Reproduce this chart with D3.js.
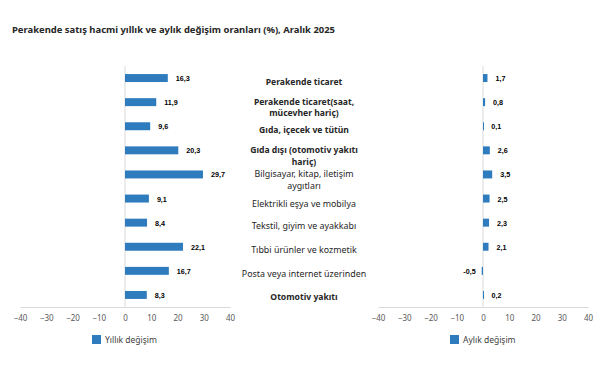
<!DOCTYPE html>
<html>
<head>
<meta charset="utf-8">
<script src="https://cdn.jsdelivr.net/npm/d3@7"></script>
<style>
  body { margin: 0; background: #fff; }
  svg { display: block; }
</style>
</head>
<body>
<div id="chart"></div>
<script>
// chart data
const title = "Perakende satış hacmi yıllık ve aylık değişim oranları (%), Aralık 2025";
const categories = [
  "Perakende ticaret",
  "Perakende ticaret(saat, mücevher hariç)",
  "Gıda, içecek ve tütün",
  "Gıda dışı (otomotiv yakıtı hariç)",
  "Bilgisayar, kitap, iletişim aygıtları",
  "Elektrikli eşya ve mobilya",
  "Tekstil, giyim ve ayakkabı",
  "Tıbbi ürünler ve kozmetik",
  "Posta veya internet üzerinden",
  "Otomotiv yakıtı"
];
// label lines as they wrap in the original
const categoryLines = [
  ["Perakende ticaret"],
  ["Perakende ticaret(saat,", "mücevher hariç)"],
  ["Gıda, içecek ve tütün"],
  ["Gıda dışı (otomotiv yakıtı", "hariç)"],
  ["Bilgisayar, kitap, iletişim", "aygıtları"],
  ["Elektrikli eşya ve mobilya"],
  ["Tekstil, giyim ve ayakkabı"],
  ["Tıbbi ürünler ve kozmetik"],
  ["Posta veya internet üzerinden"],
  ["Otomotiv yakıtı"]
];
const boldCategories = [true, true, true, true, false, false, false, false, false, true];
const yearlyChange = [16.3, 11.9, 9.6, 20.3, 29.7, 9.1, 8.4, 22.1, 16.7, 8.3];
const monthlyChange = [1.7, 0.8, 0.1, 2.6, 3.5, 2.5, 2.3, 2.1, -0.5, 0.2];
const xTicks = [-40, -30, -20, -10, 0, 10, 20, 30, 40];
const seriesNames = ["Yıllık değişim", "Aylık değişim"];

const width = 604, height = 372;
const barColor = "#2e7bbd";
const fmt = v => String(v).replace(".", ",");

const svg = d3.select("#chart").append("svg")
  .attr("width", width)
  .attr("height", height);

svg.append("text")
  .attr("x", 12).attr("y", 33)
  .attr("font-family", "Noto Sans, sans-serif")
  .attr("font-weight", "bold")
  .attr("font-size", 9.45)
  .attr("fill", "#262626")
  .text(title);

const plotTop = 66, plotBottom = 307;

const yScale = d3.scaleBand()
  .domain(categories)
  .range([plotTop, plotBottom])
  .paddingInner(0.67)
  .paddingOuter(0.335);

function drawPanel(x0, x1, values, legendX, name) {
  const xScale = d3.scaleLinear().domain([-40, 40]).range([x0, x1]);
  const g = svg.append("g");

  // zero line
  g.append("line")
    .attr("x1", xScale(0)).attr("x2", xScale(0))
    .attr("y1", plotTop).attr("y2", plotBottom)
    .attr("stroke", "#d9d9d9").attr("stroke-width", 1);

  // bottom axis
  const axis = g.append("g")
    .attr("transform", `translate(0,${plotBottom})`)
    .call(d3.axisBottom(xScale).tickValues(xTicks).tickSize(0).tickPadding(8));
  axis.select(".domain").attr("stroke", "#d9d9d9");
  axis.selectAll("text")
    .attr("font-family", "Noto Sans, sans-serif")
    .attr("font-size", 8)
    .attr("fill", "#595959");

  // bars
  g.selectAll("rect.bar")
    .data(values)
    .join("rect")
    .attr("class", "bar")
    .attr("x", d => xScale(Math.min(0, d)))
    .attr("y", (d, i) => yScale(categories[i]))
    .attr("width", d => Math.max(1, Math.abs(xScale(d) - xScale(0))))
    .attr("height", yScale.bandwidth())
    .attr("fill", barColor);

  // value labels
  g.selectAll("text.val")
    .data(values)
    .join("text")
    .attr("class", "val")
    .attr("x", d => d < 0 ? xScale(d) - 6 : xScale(d) + 8)
    .attr("y", (d, i) => yScale(categories[i]) + yScale.bandwidth() / 2 + 3)
    .attr("text-anchor", d => d < 0 ? "end" : "start")
    .attr("font-family", "Liberation Sans, Arial, sans-serif")
    .attr("font-weight", "bold")
    .attr("font-size", 7.2)
    .attr("fill", "#000")
    .text(d => fmt(d));

  // legend
  const lg = g.append("g").attr("transform", `translate(${legendX},335)`);
  lg.append("rect").attr("width", 9).attr("height", 9).attr("fill", barColor);
  lg.append("text")
    .attr("x", 13).attr("y", 8)
    .attr("font-family", "Noto Sans, sans-serif")
    .attr("font-size", 8.5)
    .attr("fill", "#404040")
    .text(name);
}

drawPanel(20, 230, yearlyChange, 92, seriesNames[0]);
drawPanel(378, 588, monthlyChange, 450, seriesNames[1]);

// category labels in the middle
const labelX = 304, lineH = 11.5;
categoryLines.forEach((lines, i) => {
  const cy = yScale(categories[i]) + yScale.bandwidth() / 2 + 3.5;
  const bold = boldCategories[i];
  const t = svg.append("text")
    .attr("text-anchor", "middle")
    .attr("font-family", "Noto Sans, sans-serif")
    .attr("font-size", bold ? 8.6 : 8.9)
    .attr("font-weight", bold ? "bold" : "normal")
    .attr("fill", "#262626");
  const shift = lines.length > 1 ? 2 : (i === 5 ? 2 : (i === 9 ? -1.5 : 0));
  const startY = cy - (lines.length - 1) * lineH / 2 + 3 + shift;
  lines.forEach((ln, j) => {
    t.append("tspan").attr("x", labelX).attr("y", startY + j * lineH).text(ln);
  });
});
</script>
</body>
</html>
